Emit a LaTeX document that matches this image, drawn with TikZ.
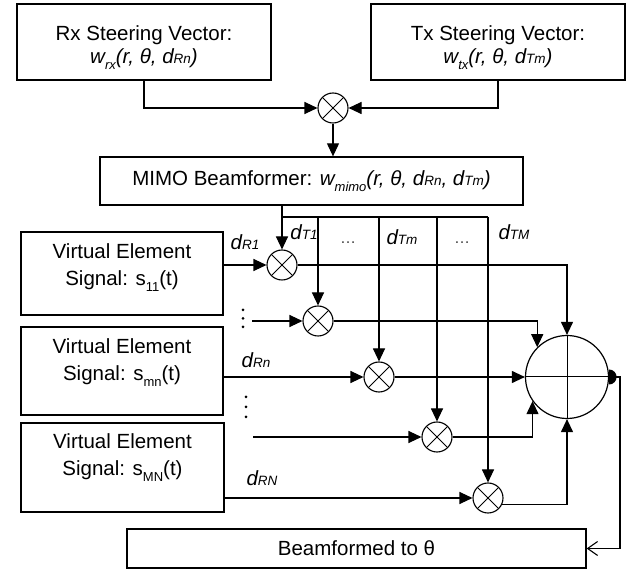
\documentclass[tikz,border=0pt]{standalone}
\usepackage{fontspec}
\setmainfont{Liberation Sans}
\usetikzlibrary{arrows.meta}
\newcommand\lsub[1]{\raisebox{-6pt}{\fontsize{13}{13}\selectfont #1}}
\newcommand\ssub[1]{{\fontsize{13.5}{13.5}\selectfont #1}}
\begin{document}
\begin{tikzpicture}[x=1pt,y=-1pt,
  font=\fontsize{20.5}{23}\selectfont,
  box/.style={draw, line width=1.3pt, inner sep=0pt, align=center},
  txt/.style={align=center, inner sep=0pt},
  vetxt/.style={align=center, inner sep=0pt, font=\fontsize{20.5}{27}\selectfont},
  lbl/.style={inner sep=0pt},
  ell/.style={inner sep=0pt, font=\fontsize{16}{16}\selectfont, text=black!75},
  mult/.style={circle, draw, line width=1.1pt, minimum size=30pt, inner sep=0pt,
    path picture={\draw[line width=1pt]
      (path picture bounding box.north west) -- (path picture bounding box.south east)
      (path picture bounding box.south west) -- (path picture bounding box.north east);}},
  sumc/.style={circle, draw, line width=1.2pt, minimum size=83pt, inner sep=0pt,
    path picture={\draw[line width=1pt]
      (path picture bounding box.north) -- (path picture bounding box.south)
      (path picture bounding box.west) -- (path picture bounding box.east);}},
  conn/.style={line width=1.1pt},
  arr/.style={conn, -{Triangle[length=13pt,width=12pt]}},
  barb/.style={conn, -{Straight Barb[length=10pt,width=14pt]}}
]
\useasboundingbox (0,0) rectangle (633,569);

% top boxes
\node[box, minimum width=254pt, minimum height=76pt] (rx) at (144,42) {};
\node[txt] (rxt) at (144,47.5) {Rx Steering Vector:\\ \textit{w\lsub{rx}(r, θ, d\ssub{Rn})}};
\node[box, minimum width=254pt, minimum height=76pt] (tx) at (498,42) {};
\node[txt] (txt) at (498,47.5) {Tx Steering Vector:\\ \textit{w\lsub{tx}(r, θ, d\ssub{Tm})}};

\node[mult] (m0) at (333,108) {};
\node[box, minimum width=423pt, minimum height=48pt] (mimo) at (311.5,181)
  {MIMO Beamformer: \textit{w\lsub{mimo}(r, θ, d\ssub{Rn}, d\ssub{Tm})}};

% virtual element boxes
\node[box, minimum width=202pt, minimum height=83pt] (s11) at (122,273.5) {};
\node[vetxt] (s11t) at (122,267.5) {Virtual Element\\Signal: s\lsub{11}(t)};
\node[box, minimum width=202pt, minimum height=88pt] (smn) at (122,371) {};
\node[vetxt] (smnt) at (122,362.5) {Virtual Element\\Signal: s\lsub{mn}(t)};
\node[box, minimum width=203pt, minimum height=89pt] (sMN) at (122.5,467.5) {};
\node[vetxt] (sMNt) at (122.5,457.5) {Virtual Element\\Signal: s\lsub{MN}(t)};

% multipliers and summer
\node[mult] (m1) at (282,265) {};
\node[mult] (m2) at (318,321) {};
\node[mult] (m3) at (379,377) {};
\node[mult] (m4) at (437,437) {};
\node[mult] (m5) at (488,498) {};
\node[sumc] (sum) at (567,377) {};

\node[box, minimum width=459pt, minimum height=39pt] (beam) at (356.5,548.5) {Beamformed to θ};

% labels
\node[lbl] (lR1) at (245,242) {\textit{d\ssub{R1}}};
\node[lbl] (lT1) at (304,232) {\textit{d\ssub{T1}}};
\node[ell] (e1) at (348,243) {…};
\node[lbl] (lTm) at (402,237) {\textit{d\ssub{Tm}}};
\node[ell] (e2) at (462,243) {…};
\node[lbl] (lTM) at (514,232) {\textit{d\ssub{TM}}};
\node[lbl] (lRn) at (256,360) {\textit{d\ssub{Rn}}};
\node[lbl] (lRN) at (262,478) {\textit{d\ssub{RN}}};

% vertical dots
\foreach \yy in {310,318.5,327} \fill (243,\yy) circle (1.5);
\foreach \yy in {397,407,417} \fill (246,\yy) circle (1.5);

% connectors top
\draw[arr] (rx.south) |- (m0.west);
\draw[arr] (tx.south) |- (m0.east);
\draw[arr] (m0.south) -- (m0.south |- mimo.north);
\draw[arr] (m1.north |- mimo.south) -- (m1.north);

% bus
\coordinate (b1) at (282,217);
\coordinate (b5) at (488,217);
\draw[conn] (b1) -- (b5);
\draw[arr] (m2.north |- b1) -- (m2.north);
\draw[arr] (m3.north |- b1) -- (m3.north);
\draw[arr] (m4.north |- b1) -- (m4.north);
\draw[arr] (m5.north |- b1) -- (m5.north);

% signal inputs
\draw[arr] (s11.east |- m1.west) -- (m1.west);
\coordinate (d1) at (252,321);
\draw[arr] (d1) -- (m2.west);
\draw[arr] (smn.east |- m3.west) -- (m3.west);
\coordinate (d2) at (253,437);
\draw[arr] (d2) -- (m4.west);
\draw[arr] (sMN.east |- m5.west) -- (m5.west);

% products to summer
\draw[arr] (m1.east) -| (sum.north);
\draw[arr] (m2.east) -| (sum.135);
\draw[arr] (m3.east) -- (sum.west);
\draw[arr] (m4.east) -| (sum.215);
\draw[arr] (m5.-24) -| (sum.south);

% output
\fill (sum.east) ++(0,7.5) arc[start angle=90, end angle=-90, radius=7.5] -- cycle;
\coordinate (oc) at (620,377);
\draw[barb] (sum.east) -- (oc) |- (beam.east);
\end{tikzpicture}
\end{document}
